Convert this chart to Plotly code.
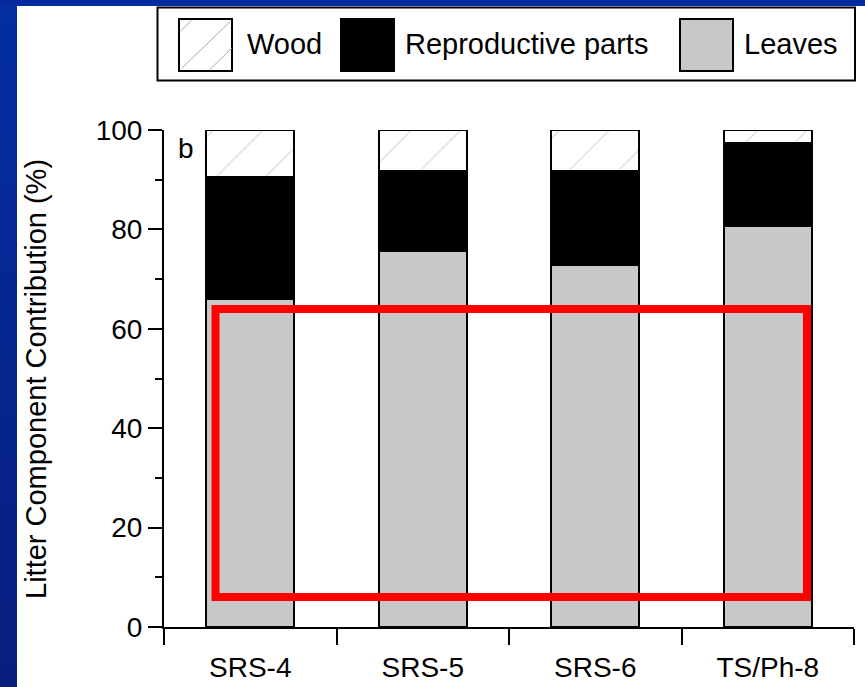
import plotly.graph_objects as go

# Litter composition by site (percent of total litterfall)
sites = ["SRS-4", "SRS-5", "SRS-6", "TS/Ph-8"]
leaves = [66.0, 75.7, 72.8, 80.7]
reproductive = [24.5, 16.1, 19.0, 16.6]
wood = [9.5, 8.2, 8.2, 2.7]

legend_labels = ["Wood", "Reproductive parts", "Leaves"]

W, H = 865, 687
ML, MR, MT, MB = 164, 11, 130, 60
PW, PH = W - ML - MR, H - MT - MB

FONT = "Liberation Sans, Arial, sans-serif"
GRAY = "#c8c8c8"
HATCH = "#a8a8a8"


def px(x):
    """pixel x -> paper x"""
    return (x - ML) / PW


def py(y):
    """pixel y (from top) -> paper y"""
    return (H - MB - y) / PH


edge = dict(color="black", width=2)

fig = go.Figure()
fig.add_bar(x=sites, y=leaves, name="Leaves", width=0.51, cliponaxis=False,
            marker=dict(color=GRAY, line=edge))
fig.add_bar(x=sites, y=reproductive, name="Reproductive parts", width=0.51, cliponaxis=False,
            marker=dict(color="black", line=edge))
fig.add_bar(x=sites, y=wood, name="Wood", width=0.51, cliponaxis=False,
            marker=dict(color="white", line=edge,
                        pattern=dict(shape="/", fgcolor=HATCH, bgcolor="white",
                                     size=35, solidity=0.03)))

shapes = []

# blue slide frame: gradient strip on the left, band along the top
n = 30
top_rgb = (4, 46, 162)
bot_rgb = (8, 30, 126)
for i in range(n):
    t = i / (n - 1)
    c = tuple(round(a + (b - a) * t) for a, b in zip(top_rgb, bot_rgb))
    y0 = H * i / n
    y1 = H * (i + 1) / n + 1
    shapes.append(dict(type="rect", xref="paper", yref="paper",
                       x0=px(0), x1=px(17), y0=py(y1), y1=py(y0),
                       line=dict(width=0), fillcolor="rgb(%d,%d,%d)" % c, layer="above"))
shapes.append(dict(type="rect", xref="paper", yref="paper",
                   x0=px(0), x1=px(W), y0=py(6), y1=py(0),
                   line=dict(width=0), fillcolor="rgb(4,42,160)", layer="above"))

# legend frame
shapes.append(dict(type="rect", xref="paper", yref="paper",
                   x0=px(157.5), x1=px(855), y0=py(80.5), y1=py(7.5),
                   line=dict(color="black", width=2), fillcolor="white", layer="above"))

# legend swatches
sw_x = [179, 341, 680]
sw_fill = ["white", "black", GRAY]
for x0, fc in zip(sw_x, sw_fill):
    shapes.append(dict(type="rect", xref="paper", yref="paper",
                       x0=px(x0), x1=px(x0 + 53), y0=py(71), y1=py(19),
                       line=dict(color="black", width=2), fillcolor=fc, layer="above"))
for (xa, ya, xb, yb) in [(180, 31.7, 191.7, 20), (181.7, 68.3, 230, 21.7), (209.3, 70, 231.7, 48.3)]:
    shapes.append(dict(type="line", xref="paper", yref="paper",
                       x0=px(xa), y0=py(ya), x1=px(xb), y1=py(yb),
                       line=dict(color=HATCH, width=1), layer="above"))

# highlight box
shapes.append(dict(type="rect", xref="paper", yref="paper",
                   x0=px(215.5), x1=px(807), y0=py(597), y1=py(309),
                   line=dict(color="#ff0000", width=8), fillcolor="rgba(0,0,0,0)",
                   layer="above"))

annotations = []
for label, x in zip(legend_labels, [245, 403, 742]):
    annotations.append(dict(text=label, xref="paper", yref="paper",
                            x=px(x), y=py(44), xanchor="left", yanchor="middle",
                            showarrow=False, font=dict(family=FONT, size=29, color="black")))
annotations.append(dict(text="Litter Component Contribution (%)", xref="paper", yref="paper",
                        x=px(36), y=py(379), xanchor="center", yanchor="middle",
                        textangle=-90, showarrow=False,
                        font=dict(family=FONT, size=29, color="black")))
annotations.append(dict(text="b", xref="paper", yref="paper",
                        x=px(185.5), y=py(148), xanchor="center", yanchor="middle",
                        showarrow=False, font=dict(family=FONT, size=28, color="black")))

fig.update_layout(
    width=W, height=H,
    margin=dict(l=ML, r=MR, t=MT, b=MB, pad=0),
    barmode="stack",
    showlegend=False,
    paper_bgcolor="white",
    plot_bgcolor="white",
    font=dict(family=FONT, size=28, color="black"),
    shapes=shapes,
    annotations=annotations,
    xaxis=dict(type="category", range=[-0.5, 3.5], showline=True, linecolor="black",
               linewidth=2, ticks="outside", tickson="boundaries", ticklen=16,
               tickwidth=1.5, tickcolor="black", showgrid=False, zeroline=False,
               ticklabelstandoff=14, automargin=False,
               tickfont=dict(family=FONT, size=28, color="black")),
    yaxis=dict(range=[0, 100], showline=True, linecolor="black", linewidth=2,
               ticks="outside", ticklen=14, tickwidth=1.5, tickcolor="black",
               dtick=20, showgrid=False, zeroline=False, automargin=False,
               minor=dict(dtick=10, ticks="outside", ticklen=7, tickwidth=1.5,
                          tickcolor="black", showgrid=False),
               tickfont=dict(family=FONT, size=28, color="black")),
)

fig.write_html("out.html")
